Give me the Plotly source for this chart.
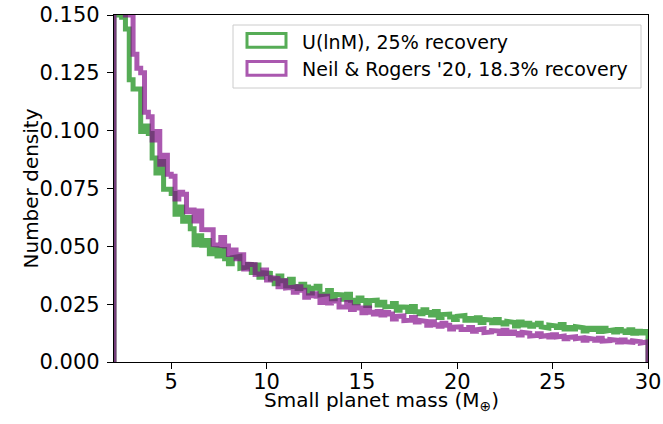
import numpy as np
import plotly.graph_objects as go

# Histogram range (bins of equal width from x_min to x_max)
x_min, x_max = 2.0, 30.0

# U(lnM), 25% recovery -- number density per bin
uniform_lnM = [
    0.173, 0.150, 0.149, 0.144, 0.122, 0.118, 0.118, 0.0996, 0.102, 0.0988,
    0.0882, 0.0817, 0.0867, 0.0747, 0.0747, 0.0728, 0.0639, 0.0670, 0.0608, 0.0625,
    0.0576, 0.0507, 0.0546, 0.0505, 0.0525, 0.0468, 0.0490, 0.0458, 0.0486, 0.0446,
    0.0425, 0.0451, 0.0456, 0.0405, 0.0410, 0.0422, 0.0387, 0.0419, 0.0366, 0.0386,
    0.0383, 0.0359, 0.0338, 0.0372, 0.0351, 0.0329, 0.0358, 0.0326, 0.0318, 0.0336,
    0.0324, 0.0298, 0.0319, 0.0327, 0.0290, 0.0295, 0.0309, 0.0273, 0.0292, 0.0290,
    0.0271, 0.0293, 0.0267, 0.0256, 0.0277, 0.0266, 0.0244, 0.0265, 0.0267, 0.0246,
    0.0258, 0.0238, 0.0240, 0.0253, 0.0224, 0.0238, 0.0237, 0.0218, 0.0240, 0.0217,
    0.0209, 0.0226, 0.0214, 0.0203, 0.0218, 0.0192, 0.0205, 0.0207, 0.0195, 0.0184,
    0.0198, 0.0201, 0.0180, 0.0188, 0.0180, 0.0191, 0.0171, 0.0184, 0.0181, 0.0170,
    0.0184, 0.0170, 0.0164, 0.0176, 0.0171, 0.0156, 0.0173, 0.0160, 0.0167, 0.0154,
    0.0161, 0.0167, 0.0152, 0.0147, 0.0160, 0.0156, 0.0149, 0.0162, 0.0143, 0.0149,
    0.0143, 0.0153, 0.0148, 0.0134, 0.0146, 0.0140, 0.0146, 0.0132, 0.0146, 0.0134,
    0.0139, 0.0130, 0.0141, 0.0134, 0.0128, 0.0139, 0.0124, 0.0133, 0.0125, 0.0132,
]

# Neil & Rogers '20, 18.3% recovery
neil_rogers = [
    0.208, 0.181, 0.175, 0.150, 0.157, 0.133, 0.127, 0.125, 0.108, 0.106,
    0.0960, 0.0996, 0.0855, 0.0894, 0.0812, 0.0803, 0.0705, 0.0734, 0.0725, 0.0650,
    0.0657, 0.0610, 0.0653, 0.0573, 0.0576, 0.0572, 0.0508, 0.0504, 0.0538, 0.0501,
    0.0465, 0.0484, 0.0446, 0.0464, 0.0402, 0.0423, 0.0421, 0.0379, 0.0381, 0.0398,
    0.0355, 0.0365, 0.0361, 0.0325, 0.0351, 0.0320, 0.0323, 0.0301, 0.0325, 0.0310,
    0.0280, 0.0286, 0.0295, 0.0284, 0.0257, 0.0284, 0.0255, 0.0261, 0.0266, 0.0238,
    0.0239, 0.0257, 0.0227, 0.0239, 0.0233, 0.0213, 0.0233, 0.0215, 0.0207, 0.0218,
    0.0203, 0.0214, 0.0207, 0.0186, 0.0197, 0.0199, 0.0179, 0.0181, 0.0192, 0.0173,
    0.0180, 0.0175, 0.0159, 0.0174, 0.0161, 0.0154, 0.0168, 0.0159, 0.0143, 0.0151,
    0.0152, 0.0140, 0.0140, 0.0149, 0.0133, 0.0139, 0.0143, 0.0127, 0.0130, 0.0136,
    0.0134, 0.0123, 0.0137, 0.0123, 0.0130, 0.0123, 0.0117, 0.0128, 0.0124, 0.0112,
    0.0115, 0.0122, 0.0111, 0.0115, 0.0108, 0.0118, 0.0108, 0.0112, 0.0100, 0.0106,
    0.0109, 0.0101, 0.0105, 0.0094, 0.0103, 0.0099, 0.0094, 0.0103, 0.0090, 0.0092,
    0.0097, 0.0094, 0.0086, 0.0095, 0.0088, 0.0085, 0.0092, 0.0088, 0.0082, 0.0087,
]

series_names = ["U(lnM), 25% recovery", "Neil & Rogers '20, 18.3% recovery"]
x_ticks = [5, 10, 15, 20, 25, 30]
y_ticks = [0.0, 0.025, 0.05, 0.075, 0.1, 0.125, 0.15]

colors = ["rgb(72,166,72)", "rgb(130,10,138)"]
opacities = [0.92, 0.68]


def step_xy(vals):
    edges = np.linspace(x_min, x_max, len(vals) + 1)
    xs, ys = [edges[0]], [0.0]
    for i, v in enumerate(vals):
        xs += [edges[i], edges[i + 1]]
        ys += [v, v]
    xs.append(edges[-1])
    ys.append(0.0)
    return xs, ys


fig = go.Figure()
for vals, name, col, op in zip([uniform_lnM, neil_rogers], series_names, colors, opacities):
    xs, ys = step_xy(vals)
    fig.add_trace(go.Scatter(x=xs, y=ys, mode="lines", line=dict(color=col, width=5),
                             opacity=op, showlegend=False, hoverinfo="skip", name=name))

font = "DejaVu Sans"

# ---- legend drawn by hand (outlined patches like matplotlib step histograms) ----
L, R, T, B = 114, 648, 15, 362        # plot-area pixel box
W, H = 663, 424
def px(x):
    return (x - L) / (R - L)
def py(y):
    return (B - y) / (B - T)

shapes = [dict(type="rect", xref="paper", yref="paper", x0=px(233), x1=px(641),
               y0=py(88), y1=py(25), line=dict(color="#cccccc", width=1),
               fillcolor="rgba(255,255,255,0.8)", layer="above")]
annotations = []
rows = [(33.5, 47.3, 41.5), (61.5, 75.3, 68.5)]
for (top, bot, mid), name, col, op in zip(rows, series_names, colors, opacities):
    shapes.append(dict(type="rect", xref="paper", yref="paper", x0=px(247), x1=px(286),
                       y0=py(bot), y1=py(top), line=dict(color=col, width=3),
                       fillcolor="rgba(0,0,0,0)", opacity=op, layer="above"))
    annotations.append(dict(text=name, xref="paper", yref="paper", x=px(300), y=py(mid),
                            xanchor="left", yanchor="middle", showarrow=False,
                            font=dict(family=font, size=19, color="black")))

annotations.append(dict(text="Small planet mass (M<sub>⊕</sub>)", xref="paper", yref="paper",
                        x=0.5, y=0, yshift=-24, xanchor="center", yanchor="top",
                        showarrow=False, font=dict(family=font, size=20, color="black")))
annotations.append(dict(text="Number density", xref="paper", yref="paper", x=0, y=0.5,
                        xshift=-84, xanchor="center", yanchor="middle", textangle=-90,
                        showarrow=False, font=dict(family=font, size=20, color="black")))

fig.update_layout(
    width=W, height=H,
    margin=dict(l=L, r=W - R, t=T, b=H - B, autoexpand=False),
    paper_bgcolor="white", plot_bgcolor="white",
    font=dict(family=font, size=20, color="black"),
    showlegend=False,
    shapes=shapes, annotations=annotations,
)
fig.update_xaxes(range=[x_min, x_max], tickvals=x_ticks, ticks="outside", ticklen=6,
                 tickwidth=1.2, tickcolor="black", showline=True, linecolor="black",
                 linewidth=1.2, mirror=True, showgrid=False, zeroline=False,
                 tickfont=dict(size=21), automargin=False, ticklabelstandoff=-5,
                 ticklabeloverflow="allow")
fig.update_yaxes(range=[0, 0.15], tickvals=y_ticks, tickformat=".3f", ticks="outside",
                 ticklen=6, tickwidth=1.2, tickcolor="black", showline=True,
                 linecolor="black", linewidth=1.2, mirror=True, showgrid=False,
                 zeroline=False, tickfont=dict(size=21), automargin=False,
                 ticklabelstandoff=3, ticklabeloverflow="allow")

# remove the browser's default 8 px body margin so the figure sits at the page origin
fig.write_html("out.html",
               config={"displayModeBar": False},
               post_script="document.body.style.margin='0';document.body.style.overflow='hidden';")
